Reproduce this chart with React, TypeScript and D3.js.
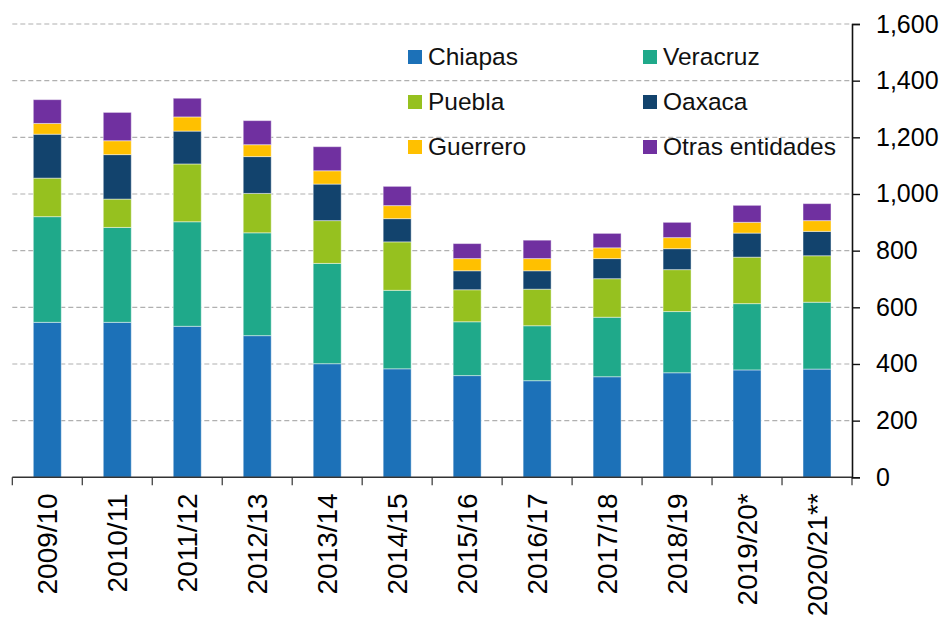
import { useEffect, useRef } from "react"
import * as d3 from "d3"

const seasons = ["2009/10", "2010/11", "2011/12", "2012/13", "2013/14", "2014/15", "2015/16", "2016/17", "2017/18", "2018/19", "2019/20*", "2020/21**"]

const chiapas = [547, 547, 533, 500, 401, 383, 359, 341, 355, 369, 379, 382]
const veracruz = [373, 335, 369, 363, 354, 277, 190, 194, 210, 216, 234, 236]
const puebla = [136, 100, 204, 139, 151, 171, 113, 129, 136, 148, 164, 164]
const oaxaca = [155, 157, 116, 130, 129, 82, 67, 65, 71, 74, 85, 86]
const guerrero = [38, 49, 50, 42, 47, 46, 43, 43, 38, 39, 38, 38]
const otras = [84, 100, 66, 85, 85, 68, 53, 65, 51, 54, 60, 60]

const seriesNames = ["Chiapas", "Veracruz", "Puebla", "Oaxaca", "Guerrero", "Otras entidades"]
const seriesColors = ["#1c71b8", "#1fa98a", "#96c11f", "#12436d", "#ffc000", "#7030a0"]
const yTicks = [0, 200, 400, 600, 800, 1000, 1200, 1400, 1600]

const W = 948
const H = 629
const FONT = "'Liberation Sans', Arial, sans-serif"

const App = () => {
  const svgRef = useRef<SVGSVGElement | null>(null)

  useEffect(() => {
    const columns = [chiapas, veracruz, puebla, oaxaca, guerrero, otras]
    const rows = seasons.map((s, i) => {
      const r: any = { season: s }
      seriesNames.forEach((n, k) => { r[n] = columns[k][i] })
      return r
    })

    const left = 12.3
    const right = 852
    const top = 24
    const bottom = 477.3

    const x = d3.scaleBand<string>()
      .domain(seasons)
      .range([left, right])
      .paddingInner(0.6)
      .paddingOuter(0.3)

    const y = d3.scaleLinear()
      .domain([0, 1600])
      .range([bottom, top])

    const stack = d3.stack<any>().keys(seriesNames)
    const layers = stack(rows)

    const svg = d3.select(svgRef.current)
    svg.selectAll("*").remove()

    // gridlines
    svg.append("g")
      .selectAll("line")
      .data(yTicks.filter(t => t > 0))
      .enter()
      .append("line")
      .attr("x1", left)
      .attr("x2", right)
      .attr("y1", d => y(d))
      .attr("y2", d => y(d))
      .attr("stroke", "#b0b0b0")
      .attr("stroke-width", 1.2)
      .attr("stroke-dasharray", "5,3")

    // bars
    svg.append("g")
      .selectAll("g")
      .data(layers)
      .enter()
      .append("g")
      .attr("fill", (_d, i) => seriesColors[i])
      .selectAll("rect")
      .data(d => d)
      .enter()
      .append("rect")
      .attr("x", d => x(d.data.season) as number)
      .attr("width", x.bandwidth())
      .attr("y", d => y(d[1]))
      .attr("height", d => y(d[0]) - y(d[1]))
      .attr("stroke", "rgba(255,255,255,0.45)")
      .attr("stroke-width", 1)

    // bottom axis
    const step = x.step()
    const bounds = d3.range(seasons.length + 1).map(i => left + i * step)
    const bx = svg.append("g")
    bx.append("line")
      .attr("x1", left).attr("x2", right)
      .attr("y1", bottom).attr("y2", bottom)
      .attr("stroke", "#333").attr("stroke-width", 1.5)
    bx.selectAll("line.tick")
      .data(bounds)
      .enter()
      .append("line")
      .attr("class", "tick")
      .attr("x1", d => d).attr("x2", d => d)
      .attr("y1", bottom).attr("y2", bottom + 8)
      .attr("stroke", "#333").attr("stroke-width", 1.2)
    bx.selectAll("text")
      .data(seasons)
      .enter()
      .append("text")
      .attr("transform", d => `translate(${(x(d) as number) + x.bandwidth() / 2},${bottom + 16}) rotate(-90)`)
      .attr("text-anchor", "end")
      .attr("dy", "0.36em")
      .attr("font-family", FONT)
      .attr("font-size", 28)
      .attr("fill", "#000")
      .text(d => d)

    // right axis
    const ay = d3.axisRight(y)
      .tickValues(yTicks)
      .tickSize(8)
      .tickPadding(16)
      .tickFormat(d => d3.format(",")(d as number))
    const gy = svg.append("g")
      .attr("transform", `translate(${right},0)`)
      .call(ay)
    gy.select(".domain").attr("stroke", "#111").attr("stroke-width", 1.6)
    gy.selectAll(".tick line").attr("stroke", "#111").attr("stroke-width", 1.4)
    gy.selectAll(".tick text")
      .attr("font-family", FONT)
      .attr("font-size", 25)
      .attr("fill", "#000")

    // legend
    const lg = svg.append("g")
    const lgItems = lg.selectAll("g")
      .data(seriesNames)
      .enter()
      .append("g")
      .attr("transform", (_d, i) => `translate(${408 + (i % 2) * 235},${50 + Math.floor(i / 2) * 45})`)
    lgItems.append("rect")
      .attr("width", 14).attr("height", 14)
      .attr("fill", (_d, i) => seriesColors[i])
    lgItems.append("text")
      .attr("x", 20)
      .attr("y", 14.5)
      .attr("font-family", FONT)
      .attr("font-size", 24.5)
      .attr("fill", "#111")
      .text(d => d)
  }, [])

  return (
    <svg ref={svgRef} width={W} height={H}
      style={{ position: "absolute", left: 0, top: 0, background: "#fff" }}></svg>
  )
}

export default App
